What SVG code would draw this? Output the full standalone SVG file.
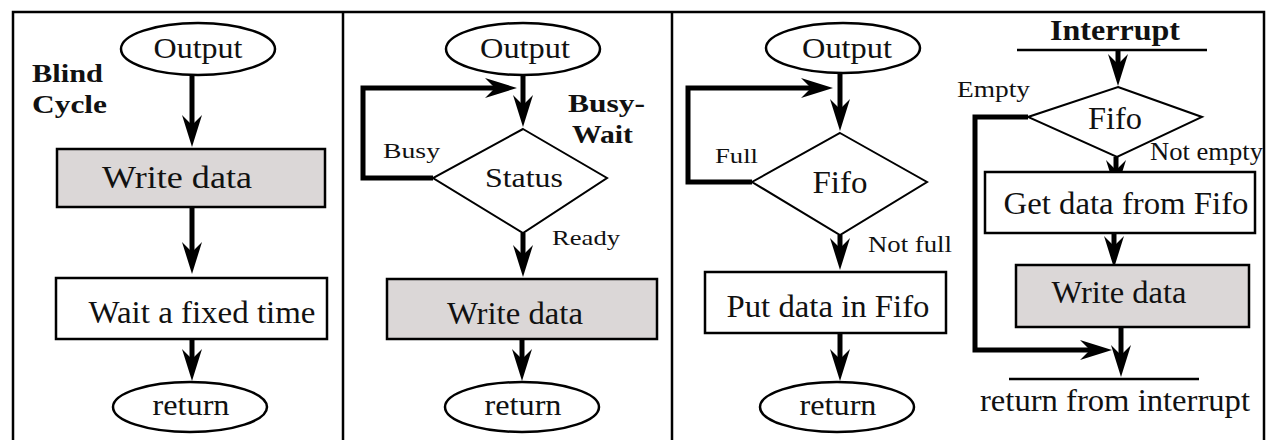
<svg xmlns="http://www.w3.org/2000/svg" width="1266" height="440" viewBox="0 0 1266 440">
<style>
.frame{stroke:#000;stroke-width:2.5;fill:none}
.box{fill:#fff;stroke:#000;stroke-width:2.5}
.gray{fill:#dbd7d7}
.term{fill:#fff;stroke:#000;stroke-width:2.5}
.dec{fill:#fff;stroke:#000;stroke-width:2}
.arr{stroke:#000;stroke-width:5;fill:none;marker-end:url(#ah)}
.bar{stroke:#000;stroke-width:2.5;fill:none}
text{font-family:"Liberation Serif","Times New Roman",serif;fill:#111}
.c{text-anchor:middle}
.b{font-weight:bold}
</style>
<defs>
<marker id="ah" viewBox="0 0 32 20" refX="10" refY="10" markerWidth="32" markerHeight="20" markerUnits="userSpaceOnUse" orient="auto">
<path d="M0,0 L32,10 L0,20 L10,10 Z" fill="#000"/>
</marker>
</defs>

<g id="frame">
<path class="frame" d="M13,440 V12 H1264 V440 M343,12 V440 M672,12 V440"/>
</g>

<g id="connectors">
<path class="arr" d="M192,75 V125"/>
<path class="arr" d="M192,207 V252"/>
<path class="arr" d="M192,339 V359"/>
<path class="arr" d="M523,75 V105"/>
<path class="arr" d="M433,178 H363 V88 H495"/>
<path class="arr" d="M523,233 V255"/>
<path class="arr" d="M522,339 V359"/>
<path class="arr" d="M840,73 V109"/>
<path class="arr" d="M752,182 H688 V88 H811"/>
<path class="arr" d="M840,235 V248"/>
<path class="arr" d="M840,333 V359"/>
<path class="bar" d="M1017,50 H1207"/>
<path class="arr" d="M1118,50 V64"/>
<path class="arr" d="M1028,117 H975 V350 H1090"/>
<path class="arr" d="M1116,157 V170"/>
<path class="arr" d="M1114,233 V246"/>
<path class="arr" d="M1121,327 V355"/>
<path class="bar" d="M1009,379 H1199"/>
</g>

<g id="p1-title">
<text class="b" x="32" y="82" font-size="26" textLength="71" lengthAdjust="spacingAndGlyphs">Blind</text>
<text class="b" x="32" y="113" font-size="26" textLength="75" lengthAdjust="spacingAndGlyphs">Cycle</text>
</g>
<g id="p1-output">
<ellipse class="term" cx="198" cy="49" rx="77" ry="26"/>
<text class="c" x="198" y="58" font-size="29" textLength="89" lengthAdjust="spacingAndGlyphs">Output</text>
</g>
<g id="p1-write">
<rect class="box gray" x="57" y="149" width="268" height="58"/>
<text class="c" x="177" y="188" font-size="31" textLength="150" lengthAdjust="spacingAndGlyphs">Write data</text>
</g>
<g id="p1-wait">
<rect class="box" x="56" y="278" width="271" height="61"/>
<text class="c" x="202" y="323" font-size="31" textLength="227" lengthAdjust="spacingAndGlyphs">Wait a fixed time</text>
</g>
<g id="p1-return">
<ellipse class="term" cx="190" cy="407" rx="77" ry="25"/>
<text class="c" x="191" y="415" font-size="30" textLength="77" lengthAdjust="spacingAndGlyphs">return</text>
</g>

<g id="p2-title">
<text class="b" x="568" y="112" font-size="26" textLength="77" lengthAdjust="spacingAndGlyphs">Busy-</text>
<text class="b" x="572" y="143" font-size="26" textLength="61" lengthAdjust="spacingAndGlyphs">Wait</text>
</g>
<g id="p2-output">
<ellipse class="term" cx="523" cy="49" rx="77" ry="26"/>
<text class="c" x="525" y="58" font-size="29" textLength="90" lengthAdjust="spacingAndGlyphs">Output</text>
</g>
<g id="p2-status">
<polygon class="dec" points="523,129 607,178 523,233 433,178"/>
<text class="c" x="524" y="187" font-size="28" textLength="78" lengthAdjust="spacingAndGlyphs">Status</text>
<text x="383" y="158" font-size="22" textLength="57" lengthAdjust="spacingAndGlyphs">Busy</text>
<text x="552" y="245" font-size="22" textLength="68" lengthAdjust="spacingAndGlyphs">Ready</text>
</g>
<g id="p2-write">
<rect class="box gray" x="387" y="279" width="270" height="60"/>
<text class="c" x="515" y="324" font-size="31" textLength="136" lengthAdjust="spacingAndGlyphs">Write data</text>
</g>
<g id="p2-return">
<ellipse class="term" cx="522" cy="407" rx="77" ry="25"/>
<text class="c" x="523" y="415" font-size="30" textLength="77" lengthAdjust="spacingAndGlyphs">return</text>
</g>

<g id="p3-output">
<ellipse class="term" cx="843" cy="48" rx="77" ry="25"/>
<text class="c" x="847" y="58" font-size="29" textLength="90" lengthAdjust="spacingAndGlyphs">Output</text>
</g>
<g id="p3-fifo">
<polygon class="dec" points="840,133 927,182 840,235 752,182"/>
<text class="c" x="840" y="193" font-size="32" textLength="55" lengthAdjust="spacingAndGlyphs">Fifo</text>
<text x="715" y="163" font-size="22" textLength="43" lengthAdjust="spacingAndGlyphs">Full</text>
<text x="868" y="252" font-size="23" textLength="84" lengthAdjust="spacingAndGlyphs">Not full</text>
</g>
<g id="p3-put">
<rect class="box" x="705" y="272" width="241" height="61"/>
<text class="c" x="828" y="317" font-size="31" textLength="203" lengthAdjust="spacingAndGlyphs">Put data in Fifo</text>
</g>
<g id="p3-return">
<ellipse class="term" cx="837" cy="407" rx="77" ry="25"/>
<text class="c" x="838" y="415" font-size="30" textLength="77" lengthAdjust="spacingAndGlyphs">return</text>
</g>

<g id="p4-interrupt">
<text class="b c" x="1115" y="40" font-size="29" textLength="130" lengthAdjust="spacingAndGlyphs">Interrupt</text>
</g>
<g id="p4-fifo">
<polygon class="dec" points="1118,87 1202,117 1117,157 1028,117"/>
<text class="c" x="1115" y="129" font-size="32" textLength="54" lengthAdjust="spacingAndGlyphs">Fifo</text>
<text x="957" y="97" font-size="23" textLength="73" lengthAdjust="spacingAndGlyphs">Empty</text>
<text x="1150" y="160" font-size="26" textLength="113" lengthAdjust="spacingAndGlyphs">Not empty</text>
</g>
<g id="p4-get">
<rect class="box" x="985" y="172" width="270" height="61"/>
<text class="c" x="1126" y="214" font-size="31" textLength="245" lengthAdjust="spacingAndGlyphs">Get data from Fifo</text>
</g>
<g id="p4-write">
<rect class="box gray" x="1016" y="265" width="233" height="62"/>
<text class="c" x="1119" y="303" font-size="31" textLength="135" lengthAdjust="spacingAndGlyphs">Write data</text>
</g>
<g id="p4-return">
<text x="980" y="411" font-size="31" textLength="270" lengthAdjust="spacingAndGlyphs">return from interrupt</text>
</g>
</svg>
